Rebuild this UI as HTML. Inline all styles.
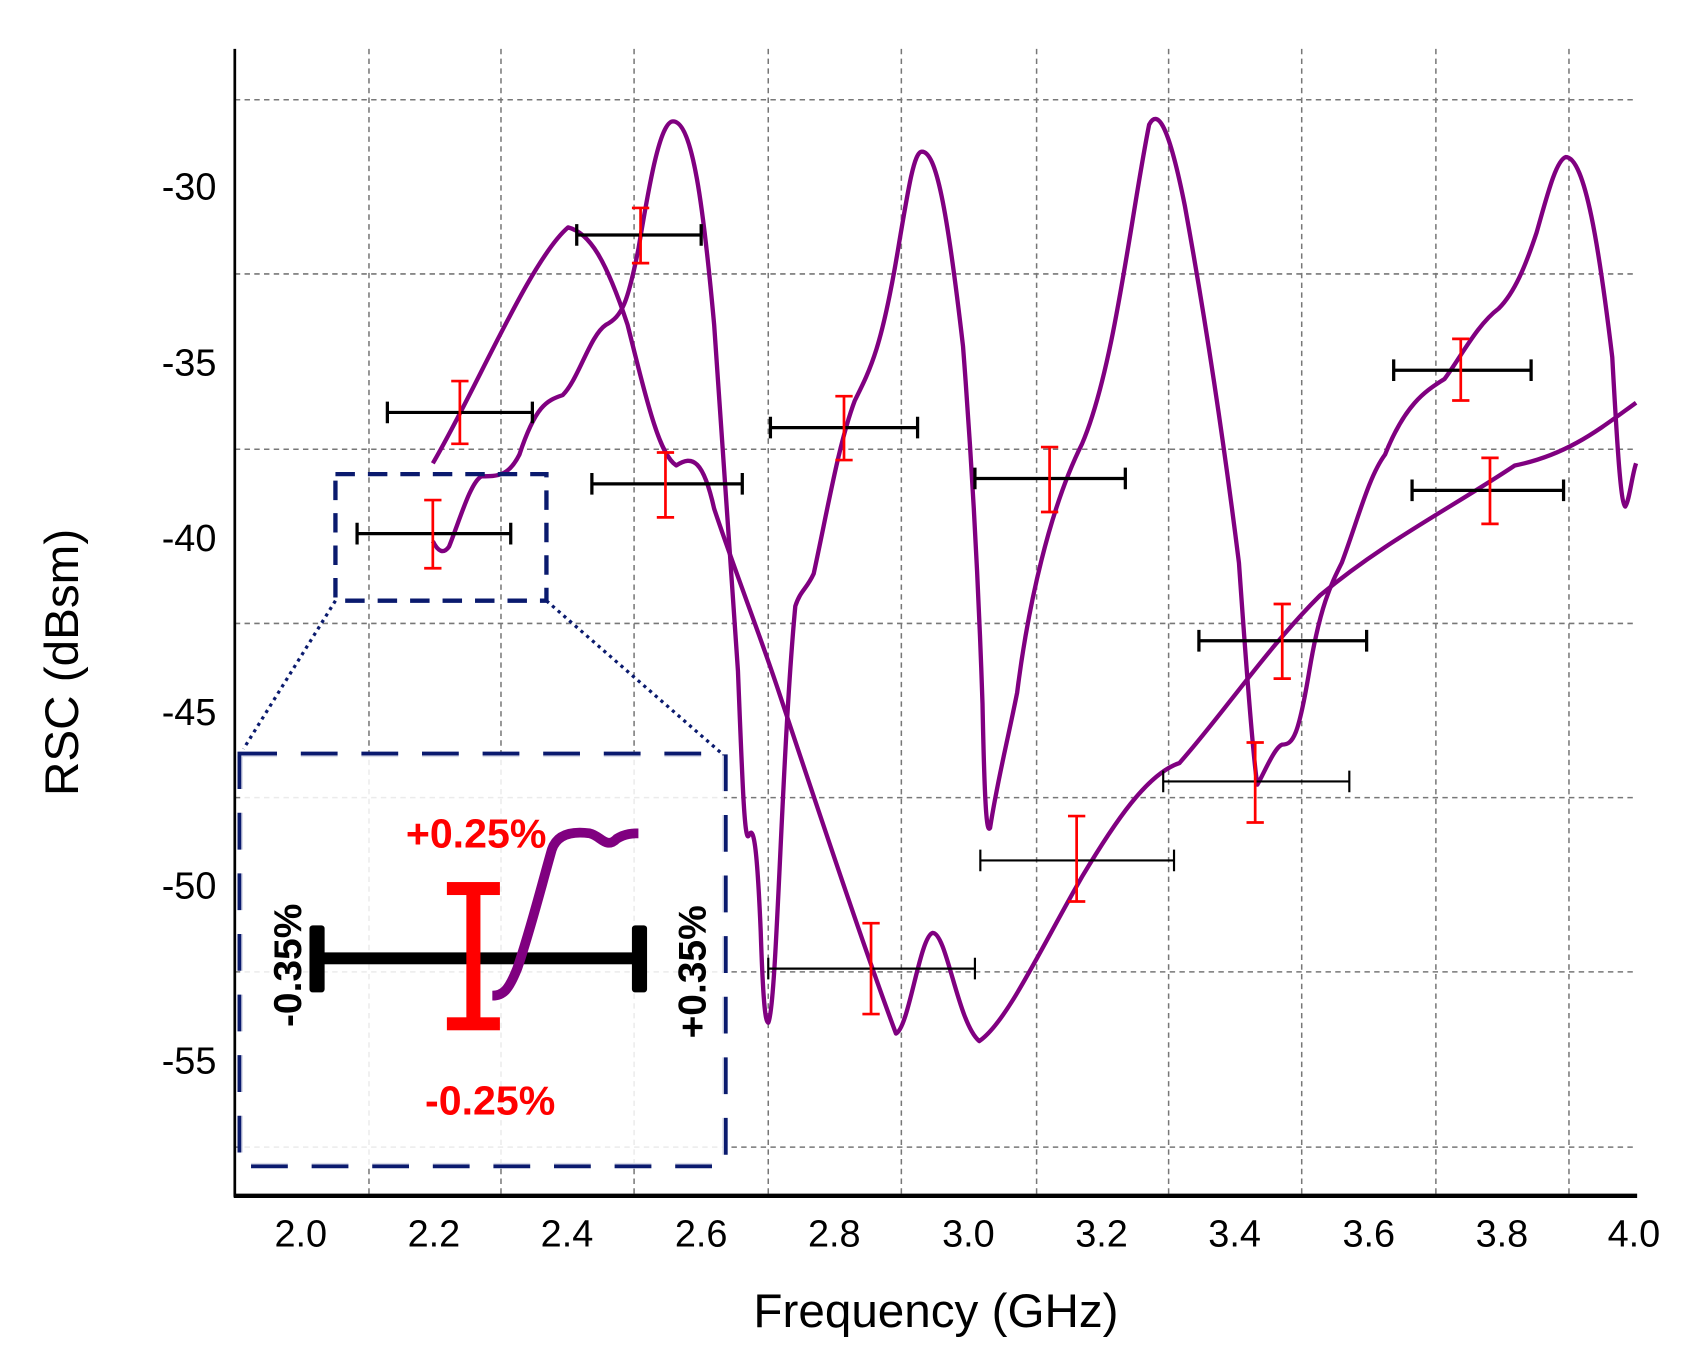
<!DOCTYPE html>
<html><head><style>html,body{margin:0;padding:0;background:#fff}svg{display:block}</style></head>
<body>
<svg width="1688" height="1354" viewBox="0 0 1560 1251" xmlns="http://www.w3.org/2000/svg" font-family="Liberation Sans, Arial, sans-serif">
<rect width="1560" height="1251" fill="#fff"/>
<g stroke="#777" stroke-width="1.4" stroke-dasharray="5,4">
<line x1="217" x2="1512" y1="92" y2="92"/><line x1="217" x2="1512" y1="253" y2="253"/><line x1="217" x2="1512" y1="415" y2="415"/><line x1="217" x2="1512" y1="576" y2="576"/><line x1="217" x2="1512" y1="737" y2="737"/><line x1="217" x2="1512" y1="898" y2="898"/><line x1="217" x2="1512" y1="1060" y2="1060"/>
<line x1="341" x2="341" y1="45" y2="1105"/><line x1="463" x2="463" y1="45" y2="1105"/><line x1="586" x2="586" y1="45" y2="1105"/><line x1="710" x2="710" y1="45" y2="1105"/><line x1="833" x2="833" y1="45" y2="1105"/><line x1="958" x2="958" y1="45" y2="1105"/><line x1="1080" x2="1080" y1="45" y2="1105"/><line x1="1203" x2="1203" y1="45" y2="1105"/><line x1="1327" x2="1327" y1="45" y2="1105"/><line x1="1450" x2="1450" y1="45" y2="1105"/>
</g>
<line x1="217" y1="45" x2="217" y2="1106" stroke="#000" stroke-width="2.5"/>
<line x1="216" y1="1105" x2="1513" y2="1105" stroke="#000" stroke-width="4"/>
<g font-size="35" text-anchor="end" fill="#000">
<text x="200" y="184">-30</text><text x="200" y="347">-35</text><text x="200" y="509">-40</text><text x="200" y="670">-45</text><text x="200" y="830">-50</text><text x="200" y="992">-55</text>
</g>
<g font-size="35" text-anchor="middle" fill="#000">
<text x="278" y="1152">2.0</text><text x="401" y="1152">2.2</text><text x="524" y="1152">2.4</text><text x="648" y="1152">2.6</text><text x="771" y="1152">2.8</text><text x="895" y="1152">3.0</text><text x="1018" y="1152">3.2</text><text x="1141" y="1152">3.4</text><text x="1265" y="1152">3.6</text><text x="1388" y="1152">3.8</text><text x="1510" y="1152">4.0</text>
</g>
<text x="865" y="1226" font-size="44" text-anchor="middle">Frequency (GHz)</text>
<text transform="translate(72,612) rotate(-90)" font-size="44" text-anchor="middle">RSC (dBsm)</text>
<g fill="none" stroke="#800080" stroke-width="4" stroke-linejoin="round">
<path d="M400,428 C440,360 490,240 525,210 C545,215 560,240 580,300 C600,380 610,420 625,430 C640,420 650,425 660,470 C680,530 700,580 720,640 C760,760 800,880 828,955 C840,950 850,865 862,862 C875,862 885,945 905,962 C930,945 960,880 1000,810 C1030,760 1060,715 1090,705 C1130,660 1170,600 1220,550 C1280,500 1340,470 1400,430 C1450,420 1480,395 1512,372"/>
<path d="M400,500 C405,510 410,512 415,505 C425,480 435,445 445,440 C460,440 470,440 480,420 C495,375 505,370 520,365 C535,350 545,310 560,300 C575,292 580,280 590,230 C600,170 610,112 622,112 C640,112 650,190 660,300 C668,420 675,520 682,620 C686,720 688,780 692,772 C697,760 700,790 703,860 C705,920 707,945 710,945 C718,930 722,700 735,560 C740,545 745,545 752,530 C765,470 775,410 790,370 C805,340 815,320 830,230 C840,170 845,140 852,140 C865,140 875,190 890,320 C900,450 905,560 908,650 C910,750 912,770 915,765 C922,720 930,690 940,640 C950,560 970,470 1000,410 C1030,340 1045,200 1062,115 C1070,100 1080,115 1095,190 C1115,300 1130,400 1145,520 C1152,620 1158,700 1162,725 C1168,715 1178,690 1185,688 C1195,688 1200,680 1210,620 C1220,560 1230,540 1240,520 C1255,480 1265,440 1280,420 C1300,370 1320,360 1335,350 C1350,330 1365,300 1385,285 C1400,270 1410,245 1420,215 C1430,180 1438,148 1447,145 C1465,145 1478,230 1490,330 C1495,420 1498,465 1502,468 C1506,462 1508,440 1512,428"/>
</g>
<g stroke="#000" stroke-width="3">
<path d="M358,381H492M358,371V391M492,371V391"/>
<path d="M330,493H472M330,483V503M472,483V503"/>
<path d="M533,217H648M533,207V227M648,207V227"/>
<path d="M547,447H686M547,437V457M686,437V457"/>
<path d="M712,395H848M712,385V405M848,385V405"/>
<path d="M901,442H1040M901,432V452M1040,432V452"/>
<path d="M1108,592H1263M1108,582V602M1263,582V602"/>
<path d="M1288,342H1415M1288,332V352M1415,332V352"/>
<path d="M1305,453H1445M1305,443V463M1445,443V463"/>
</g>
<g stroke="#000" stroke-width="2">
<path d="M710,895H901M710,885V905M901,885V905"/>
<path d="M906,795H1085M906,785V805M1085,785V805"/>
<path d="M1075,722H1247M1075,712V732M1247,712V732"/>
</g>
<g stroke="#ff0000" stroke-width="2.5">
<path d="M425,352V410M417,352H433M417,410H433"/>
<path d="M400,462V525M392,462H408M392,525H408"/>
<path d="M592,192V243M584,192H600M584,243H600"/>
<path d="M615,418V478M607,418H623M607,478H623"/>
<path d="M780,366V425M772,366H788M772,425H788"/>
<path d="M970,413V473M962,413H978M962,473H978"/>
<path d="M805,853V937M797,853H813M797,937H813"/>
<path d="M995,754V833M987,754H1003M987,833H1003"/>
<path d="M1185,558V627M1177,558H1193M1177,627H1193"/>
<path d="M1160,686V760M1152,686H1168M1152,760H1168"/>
<path d="M1350,313V370M1342,313H1358M1342,370H1358"/>
<path d="M1377,423V484M1369,423H1385M1369,484H1385"/>
</g>
<g fill="none" stroke="#0a1a6e">
<rect x="310" y="438" width="195" height="117" stroke-width="4" stroke-dasharray="18,12"/>
<rect x="222" y="697" width="448" height="380" stroke-width="5" stroke-dasharray="34,22"/>
<path d="M310,555L225,692M505,555L668,697" stroke-width="3" stroke-dasharray="3,4"/>
</g>
<rect x="223" y="698" width="446" height="378" fill="#fff" opacity="0.85"/>
<g>
<rect x="292" y="880" width="300" height="11" fill="#000"/>
<rect x="286" y="855" width="14" height="62" rx="3" fill="#000"/>
<rect x="584" y="855" width="14" height="62" rx="3" fill="#000"/>
<path d="M455,920 C465,920 470,915 478,895 C490,860 500,820 510,785 C515,770 530,768 545,770 C555,772 560,785 570,775 C578,770 585,770 590,770" fill="none" stroke="#800080" stroke-width="9"/>
<rect x="431" y="820" width="13" height="130" fill="#ff0000"/>
<rect x="413" y="815" width="49" height="12" fill="#ff0000"/>
<rect x="413" y="940" width="49" height="12" fill="#ff0000"/>
<text x="440" y="783" font-size="38" font-weight="bold" fill="#ff0000" text-anchor="middle">+0.25%</text>
<text x="453" y="1030" font-size="38" font-weight="bold" fill="#ff0000" text-anchor="middle">-0.25%</text>
<text transform="translate(278,892) rotate(-90)" font-size="36" font-weight="bold" text-anchor="middle">-0.35%</text>
<text transform="translate(652,898) rotate(-90)" font-size="36" font-weight="bold" text-anchor="middle">+0.35%</text>
</g>
</svg>
</body></html>
